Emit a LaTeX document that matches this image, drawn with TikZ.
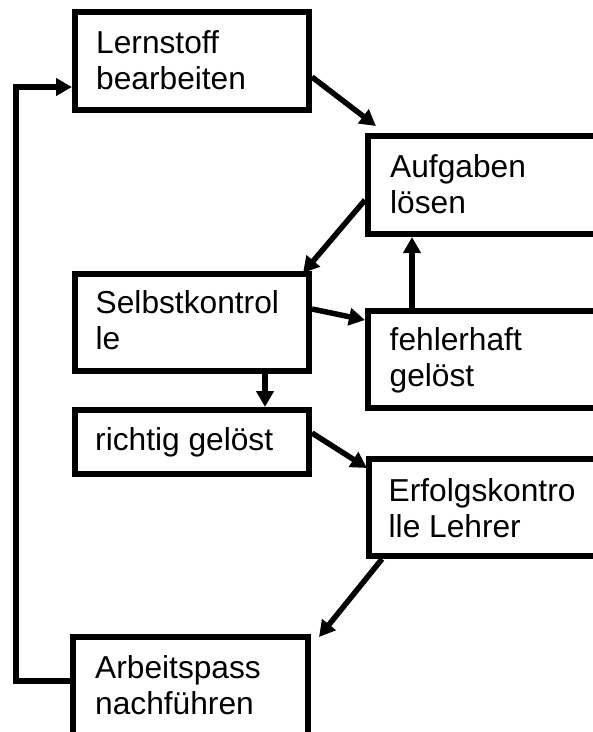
\documentclass[tikz,border=0pt]{standalone}
\usepackage{fontspec}
\setmainfont{Liberation Sans}
\usetikzlibrary{arrows.meta,calc}
\newcommand\twolines[2]{\vtop{\baselineskip=36.5pt\hbox{#1}\hbox{#2}}}
\begin{document}
\begin{tikzpicture}[x=1pt,y=-1pt,
  box/.style={draw,line width=6pt,rectangle,inner sep=0pt,fill=none},
  lbl/.style={anchor=base west,inner sep=0pt,font=\fontsize{31.7}{36.5}\selectfont},
  arr/.style={line width=5.5pt,-{Triangle[length=16pt,width=17pt]}}]
\useasboundingbox (0,0) rectangle (593,732);
\clip (0,0) rectangle (593,732);
% boxes
\node[box,minimum width=234pt,minimum height=98pt] (b1) at (192,61) {};
\node[box,minimum width=292pt,minimum height=98pt] (b2) at (514,185) {};
\node[box,minimum width=234pt,minimum height=97pt] (b3) at (192,322.5) {};
\node[box,minimum width=292pt,minimum height=97pt] (b4) at (514,359.5) {};
\node[box,minimum width=234pt,minimum height=64pt] (b5) at (192,442) {};
\node[box,minimum width=291pt,minimum height=97pt] (b6) at (514.5,507.5) {};
\node[box,minimum width=235pt,minimum height=153pt] (b7) at (190.5,713.5) {};
% labels
\node[lbl] (t1) at (96,53) {\twolines{Lernstoff}{bearbeiten}};
\node[lbl] (t2) at (390,177) {\twolines{Aufgaben}{lösen}};
\node[lbl] (t3) at (95.5,313) {\twolines{Selbstkontrol}{le}};
\node[lbl] (t4) at (389.5,350) {\twolines{fehlerhaft}{gelöst}};
\node[lbl] (t5) at (95,450) {richtig gelöst};
\node[lbl] (t6) at (388.5,501) {\twolines{Erfolgskontro}{lle Lehrer}};
\node[lbl] (t7) at (95,678) {\twolines{Arbeitspass}{nachführen}};
% connectors
\draw[arr] ($(b1.east)+(0,16)$) -- ($(b2.north west)+(11,-7)$);
\draw[arr] ($(b2.west)+(0,15)$) -- ($(b3.north east)+(-9,2)$);
\draw[arr] ($(b3.east)+(0,-13.5)$) -- ($(b4.west)+(0,-39.5)$);
\draw[arr] ($(b4.north)+(-102,0)$) -- ($(b2.south)+(-102,0)$);
\draw[arr] ($(b3.south)+(73,0)$) -- ($(b5.north)+(73,0)$);
\draw[arr] ($(b5.east)+(0,-9)$) -- ($(b6.west)+(1,-39.5)$);
\draw[arr] ($(b6.south)+(-132.5,0)$) -- ($(b7.north east)+(8,3)$);
\draw[arr] ($(b7.west)+(0,-32.5)$) -- ++(-54,0) |- ($(b1.west)+(0,26)$);
\end{tikzpicture}
\end{document}
